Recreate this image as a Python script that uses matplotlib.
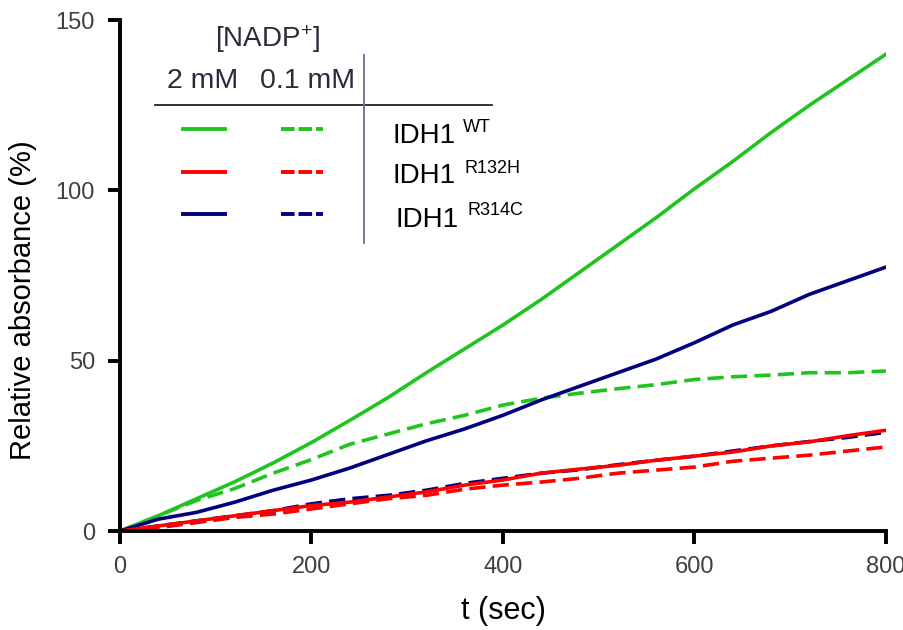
import numpy as np
import matplotlib
matplotlib.use("Agg")
import matplotlib.pyplot as plt

plt.rcParams['font.family'] = ['Liberation Sans', 'DejaVu Sans']
plt.rcParams['mathtext.fontset'] = 'custom'
plt.rcParams['mathtext.rm'] = 'Liberation Sans'
plt.rcParams['mathtext.it'] = 'Liberation Sans'

# time points (sec)
t = np.arange(0, 801, 40)

# relative absorbance (%)
wt_2mM = [0, 4.5, 9.5, 14.5, 20, 26, 32.5, 39.2, 46.5, 53.5, 60.5, 68, 76, 84, 92,
          100.5, 108.5, 117, 125, 132.5, 140]
wt_01mM = [0, 4.5, 9, 12.5, 17, 21, 25.5, 28.5, 31.5, 34, 37, 39, 40.5, 41.8, 43,
           44.5, 45.3, 45.8, 46.5, 46.5, 47]
r132h_2mM = [0, 1.5, 3, 4.5, 6, 7.5, 8.5, 10, 11.5, 13.5, 15, 17, 18.2, 19.3, 20.8,
             22, 23.2, 25, 26.2, 28, 29.6]
r132h_01mM = [0, 1, 2.5, 4, 5, 6.5, 8, 9.5, 10.5, 12.3, 13.5, 14.4, 15.5, 17, 17.9,
              18.8, 20.5, 21.4, 22.3, 23.5, 24.7]
r314c_2mM = [0, 3.5, 5.5, 8.5, 12, 15, 18.5, 22.5, 26.5, 30, 34, 38.5, 42.5, 46.5, 50.5,
             55.3, 60.5, 64.5, 69.5, 73.5, 77.5]
r314c_01mM = [0, 1.5, 3, 4.5, 6, 8, 9.5, 10.5, 12, 14, 15.5, 17, 18, 19.5, 20.8,
              22, 23.5, 25, 26.3, 27.5, 29]

conc_labels = ['2 mM', '0.1 mM']
enzyme_names = ['WT', 'R132H', 'R314C']

green = '#1fc41f'
red = '#ff0000'
navy = '#000080'
dash = (0, (4.5, 2))
lw = 2.6

fig = plt.figure(figsize=(9.04, 6.3), dpi=100)
ax = fig.add_axes([0.1327, 0.157, 0.8473, 0.811])

# dashed first so solid lines sit on top like in the original
ax.plot(t, wt_01mM, color=green, lw=lw, ls=dash)
ax.plot(t, r132h_01mM, color=red, lw=lw, ls=dash)
ax.plot(t, r314c_01mM, color=navy, lw=lw, ls=dash)
ax.plot(t, wt_2mM, color=green, lw=lw)
ax.plot(t, r314c_2mM, color=navy, lw=lw)
ax.plot(t, r132h_2mM, color=red, lw=lw)

ax.set_xlim(0, 800)
ax.set_ylim(0, 150)
ax.set_xticks([0, 200, 400, 600, 800])
ax.set_yticks([0, 50, 100, 150])
for s in ['top', 'right']:
    ax.spines[s].set_visible(False)
for s in ['left', 'bottom']:
    ax.spines[s].set_linewidth(2.8)
ax.tick_params(width=2.8, length=9, labelsize=17, labelcolor='#404040', pad=9)
ax.set_xlabel('t (sec)', fontsize=22, labelpad=13)
ax.set_ylabel('Relative absorbance (%)', fontsize=21)
ax.yaxis.set_label_coords(-0.108, 0.452)

# hand-made legend table (axes fraction coords)
tr = ax.transAxes
txtcol = '#2a2a3a'
ax.text(0.193, 0.948, r'[NADP$^{+}$]', transform=tr, ha='center', va='baseline',
        fontsize=20, color=txtcol)
ax.text(0.108, 0.867, conc_labels[0], transform=tr, ha='center', va='baseline',
        fontsize=20.5, color=txtcol)
ax.text(0.245, 0.867, conc_labels[1], transform=tr, ha='center', va='baseline',
        fontsize=20.5, color=txtcol)
ax.plot([0.0457, 0.4856], [0.834, 0.834], transform=tr, color='#222222', lw=1.3,
        clip_on=False)
ax.plot([0.3185, 0.3185], [0.932, 0.564], transform=tr, color='#6a6a9a', lw=1.3,
        clip_on=False)

line_y = [0.787, 0.7025, 0.620]
base_y = [0.7593, 0.681, 0.5949]
sup_y = [0.7814, 0.7006, 0.6184]
name_x = [0.3564, 0.3564, 0.3603]
sup_x = [0.4478, 0.4504, 0.4543]
for i, col in enumerate([green, red, navy]):
    ax.plot([0.0822, 0.137], [line_y[i]] * 2, transform=tr, color=col, lw=2.8)
    ax.plot([0.210, 0.265], [line_y[i]] * 2, transform=tr, color=col, lw=2.8,
            ls=(0, (3.5, 1.0)))
    ax.text(name_x[i], base_y[i], 'IDH1', transform=tr, ha='left', va='baseline',
            fontsize=20, color='black')
    ax.text(sup_x[i], sup_y[i], enzyme_names[i], transform=tr, ha='left',
            va='baseline', fontsize=13, color='black')

fig.savefig('out.png', dpi=100)
